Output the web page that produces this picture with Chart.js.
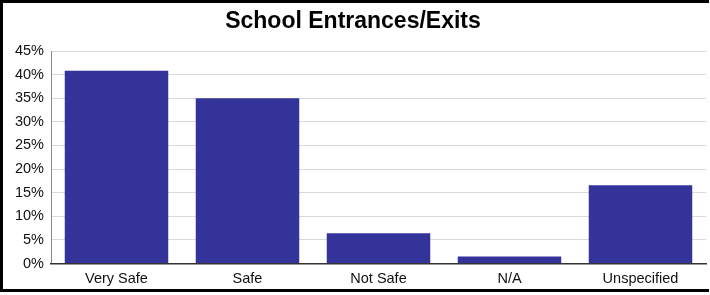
<!DOCTYPE html>
<html>
<head>
<meta charset="utf-8">
<script src="https://cdn.jsdelivr.net/npm/chart.js@4/dist/chart.umd.min.js"></script>
<style>
html,body{margin:0;padding:0;background:#fff;}
#wrap{width:710px;height:295px;position:relative;}
</style>
</head>
<body>
<div id="wrap"><canvas id="c" width="710" height="295"></canvas></div>
<script>
const categories = ["Very Safe", "Safe", "Not Safe", "N/A", "Unspecified"];
const values = [40.8, 35.0, 6.4, 1.5, 16.6];
const chartTitle = "School Entrances/Exits";

const frame = {
  id: 'frame',
  afterDraw(chart) {
    const ctx = chart.ctx;
    ctx.save();
    ctx.strokeStyle = '#000';
    ctx.lineWidth = 3;
    ctx.beginPath();
    ctx.moveTo(709, 1.5);
    ctx.lineTo(1.5, 1.5);
    ctx.lineTo(1.5, 290.5);
    ctx.lineTo(709, 290.5);
    ctx.stroke();
    ctx.restore();
  }
};

new Chart(document.getElementById('c'), {
  type: 'bar',
  data: {
    labels: categories,
    datasets: [{
      data: values,
      backgroundColor: '#333399',
      borderWidth: 0,
      barPercentage: 0.79,
      categoryPercentage: 1.0
    }]
  },
  options: {
    responsive: false,
    animation: false,
    devicePixelRatio: 1,
    layout: { padding: { left: 0, right: 4, top: 0, bottom: 0 } },
    plugins: {
      legend: { display: false },
      tooltip: { enabled: false },
      title: {
        display: true,
        text: chartTitle,
        color: '#000',
        font: { family: 'Liberation Sans, Arial, sans-serif', size: 23, weight: 'bold' },
        padding: { top: 8, bottom: 15.4 }
      }
    },
    scales: {
      y: {
        min: 0, max: 45,
        afterFit(scale) { scale.width = 51; },
        ticks: {
          stepSize: 5,
          padding: 7,
          color: '#111',
          font: { family: 'Liberation Sans, Arial, sans-serif', size: 14.5 },
          callback: v => v + '%'
        },
        grid: { color: '#d9d9d9', lineWidth: 1, drawTicks: false },
        border: { color: '#888', width: 1 }
      },
      x: {
        ticks: {
          color: '#111',
          padding: 7,
          font: { family: 'Liberation Sans, Arial, sans-serif', size: 14.5 }
        },
        grid: { display: false, drawTicks: false },
        border: { color: '#333', width: 1.5 }
      }
    }
  },
  plugins: [frame]
});
</script>
</body>
</html>
